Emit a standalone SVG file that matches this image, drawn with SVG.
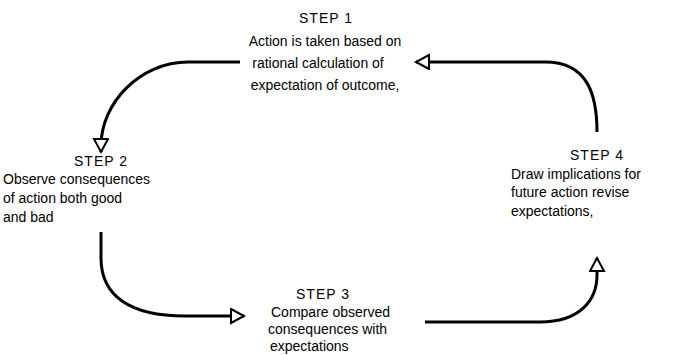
<svg xmlns="http://www.w3.org/2000/svg" width="688" height="355" viewBox="0 0 688 355">
<defs>
<style>
text{font-family:"Liberation Sans",Arial,sans-serif;font-size:14px;fill:#000}
.c{text-anchor:middle}
.h{letter-spacing:1px}
.con{fill:none;stroke:#000;stroke-width:3}
</style>
<marker id="ah" markerUnits="userSpaceOnUse" markerWidth="20" markerHeight="20" refX="14" refY="8" orient="auto">
<path d="M1,1 L14,8 L1,15 Z" fill="#fff" stroke="#000" stroke-width="2"/>
</marker>
</defs>
<rect width="688" height="355" fill="#fff"/>
<g id="connectors">
<path class="con" d="M240,62 L188,62 C140,62 101,103 101,146 L101,152" marker-end="url(#ah)"/>
<path class="con" d="M101,232 L101,258 C101,296 130,316 185,316 L244,316" marker-end="url(#ah)"/>
<path class="con" d="M425,322 L540,322 C580,322 597,300 597,275 L597,258" marker-end="url(#ah)"/>
<path class="con" d="M597,132 C597,95 588,62 545,62 L416,62" marker-end="url(#ah)"/>
</g>
<g id="step1">
<text class="c h" x="326" y="23">STEP 1</text>
<text class="c" x="325" y="46">Action is taken based on</text>
<text class="c" x="318" y="68">rational calculation of</text>
<text class="c" x="325" y="90">expectation of outcome,</text>
</g>
<g id="step2">
<text class="c h" x="101" y="166">STEP 2</text>
<text x="3" y="184">Observe consequences</text>
<text x="3" y="203">of action  both good</text>
<text x="3" y="222">and bad</text>
</g>
<g id="step3">
<text class="c h" x="323" y="299">STEP 3</text>
<text x="271" y="317">Compare observed</text>
<text x="268" y="334">consequences with</text>
<text x="270" y="351">expectations</text>
</g>
<g id="step4">
<text class="c h" x="597" y="160">STEP 4</text>
<text x="511" y="179">Draw implications for</text>
<text x="511" y="197">future action  revise</text>
<text x="511" y="216">expectations,</text>
</g>
</svg>
